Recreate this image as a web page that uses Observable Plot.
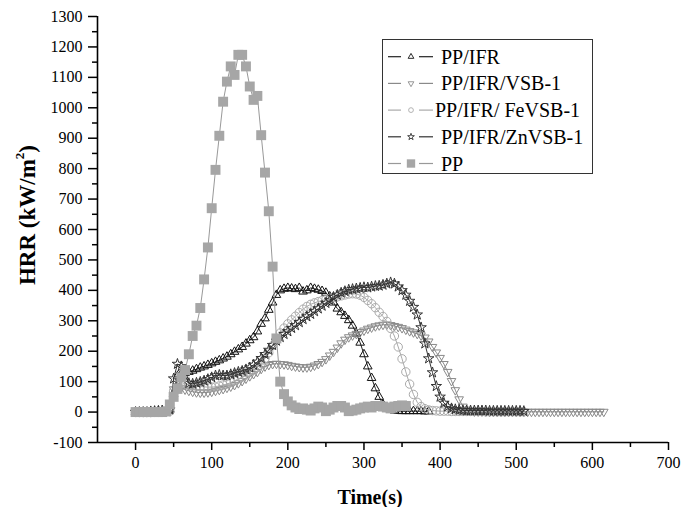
<!DOCTYPE html>
<html>
<head>
<meta charset="utf-8">
<script src="https://cdn.jsdelivr.net/npm/d3@7"></script>
<script src="https://cdn.jsdelivr.net/npm/@observablehq/plot@0.6"></script>
<style>
  html, body { margin: 0; padding: 0; background: #fff; }
  #chart { width: 682px; height: 507px; }
</style>
</head>
<body>
<div id="chart"></div>
<script>
// ---- data (time step 5 s, starting at 0) ----
const timeStep = 5;
const xTicks = [0, 100, 200, 300, 400, 500, 600, 700];
const yTicks = [-100, 0, 100, 200, 300, 400, 500, 600, 700, 800, 900, 1000, 1100, 1200, 1300];
const seriesNames = ["PP/IFR", "PP/IFR/VSB-1", "PP/IFR/ FeVSB-1", "PP/IFR/ZnVSB-1", "PP"];

const ppIFR = [0,0,0,0,0,2,3,4,5,8,
  60,118,125,128,132,136,141,146,150,155,
  160,165,170,176,182,190,198,206,214,225,
  236,246,265,290,308,336,360,385,400,405,
  408,406,404,408,396,400,408,405,402,398,
  392,380,360,340,328,316,302,284,258,228,
  190,150,112,78,50,25,12,8,5,4,
  3,3,3,3,3,3,2,2];

const ppIFRVSB = [0,0,0,0,0,1,2,2,3,3,
  75,85,80,74,70,67,65,64,64,65,
  67,70,73,76,80,84,89,95,102,110,
  118,125,132,142,150,155,158,159,158,157,
  155,152,150,148,147,147,149,153,158,165,
  174,186,198,212,226,238,246,252,257,263,
  268,274,278,282,285,287,288,286,283,280,
  276,271,266,262,257,252,245,232,214,196,
  178,158,132,102,72,42,18,8,4,2,
  2,2,2,1,1,1,1,1,1,1,
  1,1,1,1,1,1,1,1,1,1,
  1,1,1,1,1,1,1,1,1,1,
  1,1,1,1];

const ppIFRFe = [0,0,0,0,0,1,2,2,3,3,
  70,100,97,93,90,88,86,84,83,82,
  82,83,86,89,92,97,103,109,115,122,
  130,138,147,160,176,195,218,240,260,276,
  290,303,315,327,338,347,354,359,363,367,
  370,373,376,379,382,385,388,389,388,384,
  377,367,356,343,328,314,298,275,250,214,
  175,132,92,58,32,18,11,7,5,4,
  3,3,3,2,2,2,2,2,2,2,
  2,2,1,1,1,1,1,1,1,1,
  1,1,1];

const ppIFRZn = [0,0,0,0,2,3,4,5,6,8,
  110,158,150,120,95,93,96,99,103,108,
  114,120,122,120,120,124,128,132,135,140,
  146,155,165,177,190,204,220,234,246,256,
  265,276,285,295,305,314,322,331,340,349,
  358,368,378,385,392,397,402,404,406,408,
  410,409,412,414,415,418,422,426,422,412,
  400,385,365,345,320,278,225,176,130,85,
  50,30,18,12,9,7,6,5,5,5,
  5,5,5,4,4,4,4,4,4,4,
  4,4,3];

const pp = [0,0,0,0,0,0,0,0,2,25,
  50,76,114,138,190,250,284,342,436,541,
  670,796,908,1020,1086,1136,1108,1174,1174,1136,
  1070,1026,1039,910,787,660,478,242,100,59,
  35,22,15,10,12,8,5,12,18,15,
  3,8,15,20,20,15,3,5,8,12,
  15,18,15,20,20,18,15,12,18,20,
  22,20];

// ---- build tables ----
const toRows = (vals) => vals.map((v, i) => ({t: i * timeStep, v}));

const sqrt3 = Math.sqrt(3);
const triangleDown = {
  draw(context, size) {
    const y = -Math.sqrt(size / (sqrt3 * 3));
    context.moveTo(0, -y * 2);
    context.lineTo(-sqrt3 * y, y);
    context.lineTo(sqrt3 * y, y);
    context.closePath();
  }
};

const series = [
  {name: seriesNames[0], rows: toRows(ppIFR), symbol: "triangle", color: "#111", line: "#222", r: 3.2, filled: false, legendSym: d3.symbolTriangle},
  {name: seriesNames[1], rows: toRows(ppIFRVSB), symbol: triangleDown, color: "#8a8a8a", line: "#8a8a8a", r: 3.2, filled: false, legendSym: triangleDown},
  {name: seriesNames[2], rows: toRows(ppIFRFe), symbol: "circle", color: "#aaaaaa", line: "#aaaaaa", r: 4.2, filled: false, legendSym: d3.symbolCircle},
  {name: seriesNames[3], rows: toRows(ppIFRZn), symbol: "star", color: "#333", line: "#333", r: 3.3, filled: false, legendSym: d3.symbolStar},
  {name: seriesNames[4], rows: toRows(pp), symbol: "square", color: "#a6a6a6", line: "#999", r: 5.6, filled: true, legendSym: d3.symbolSquare}
];

const minorX = d3.range(-50, 701, 100).filter(v => v > -50);
const minorY = d3.range(-50, 1300, 100);

const marks = [];
for (const s of series) {
  marks.push(Plot.line(s.rows, {x: "t", y: "v", stroke: s.line, strokeWidth: 1}));
  marks.push(Plot.dot(s.rows, {
    x: "t", y: "v", symbol: s.symbol, r: s.r,
    stroke: s.filled ? "none" : s.color,
    fill: s.filled ? s.color : "none",
    strokeWidth: 1
  }));
}

const chart = Plot.plot({
  width: 682,
  height: 507,
  marginLeft: 97,
  marginRight: 14,
  marginTop: 16,
  marginBottom: 65,
  style: {fontFamily: "'Liberation Serif', 'Times New Roman', serif", fontSize: "16px", color: "#000", background: "#fff"},
  x: {domain: [-50, 700]},
  y: {domain: [-100, 1300]},
  marks: [
    ...marks,
    Plot.axisY({ticks: yTicks, tickSize: 9, tickPadding: 6, tickFormat: d => String(d), label: null, strokeWidth: 1.5, fontSize: 16}),
    Plot.axisY({ticks: minorY, tickSize: 5, tickFormat: () => "", label: null, strokeWidth: 1.5}),
    Plot.axisX({ticks: xTicks, tickSize: 8, tickPadding: 6, tickFormat: d => String(d), label: null, strokeWidth: 1.5, fontSize: 16}),
    Plot.axisX({ticks: minorX, tickSize: 5, tickFormat: () => "", label: null, strokeWidth: 1.5}),
    Plot.ruleX([-50], {stroke: "#000", strokeWidth: 1.6}),
    Plot.ruleY([-100], {stroke: "#000", strokeWidth: 1.6})
  ]
});

document.getElementById("chart").appendChild(chart);

// ---- axis titles & legend ----
const svg = d3.select(chart);
const serif = "'Liberation Serif', 'Times New Roman', serif";

const yl = svg.append("text")
  .attr("transform", "translate(27,215) rotate(-90)")
  .attr("text-anchor", "middle")
  .attr("dominant-baseline", "central")
  .attr("font-family", serif).attr("font-weight", "bold").attr("font-size", 23).attr("fill", "#000");
yl.append("tspan").text("HRR (kW/m");
yl.append("tspan").attr("font-size", 13).attr("dy", -8).text("2");
yl.append("tspan").attr("dy", 8).text(")");

svg.append("text")
  .attr("x", 370).attr("y", 504)
  .attr("text-anchor", "middle")
  .attr("font-family", serif).attr("font-weight", "bold").attr("font-size", 20).attr("fill", "#000")
  .text("Time(s)");

const lg = svg.append("g").attr("text-anchor", "start");
lg.append("rect").attr("x", 382.5).attr("y", 39.5).attr("width", 210).attr("height", 134)
  .attr("fill", "#fff").attr("stroke", "#333").attr("stroke-width", 1);
series.forEach((s, i) => {
  const cy = 56.7 + i * 26.7;
  lg.append("line").attr("x1", 388).attr("x2", 401).attr("y1", cy).attr("y2", cy).attr("stroke", s.line).attr("stroke-width", 1.2);
  lg.append("line").attr("x1", 419).attr("x2", 433).attr("y1", cy).attr("y2", cy).attr("stroke", s.line).attr("stroke-width", 1.2);
  const size = s.filled ? 70 : (s.symbol === "circle" ? 18 : 14);
  lg.append("path").attr("d", d3.symbol(s.legendSym, size)())
    .attr("transform", `translate(411,${cy})`)
    .attr("fill", s.filled ? s.color : "none")
    .attr("stroke", s.filled ? "none" : s.color).attr("stroke-width", 0.9);
  lg.append("text").attr("x", i === 2 ? 435 : 441).attr("y", cy)
    .attr("text-anchor", "start")
    .attr("dominant-baseline", "central")
    .attr("font-family", serif).attr("font-size", 20).attr("fill", "#000")
    .text(s.name);
});
</script>
</body>
</html>
